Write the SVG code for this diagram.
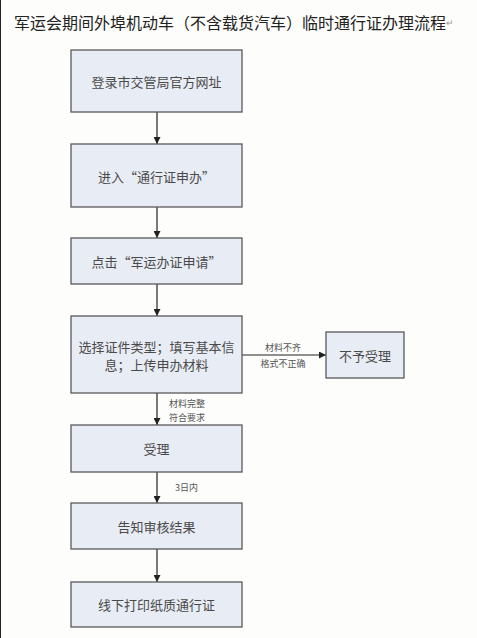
<svg xmlns="http://www.w3.org/2000/svg" width="477" height="638" viewBox="0 0 477 638">
<defs>
<style>
.bx{fill:#e8ecf4;stroke:#5a5a5a;stroke-width:1.3}
.t{font-family:"Noto Sans CJK SC","Liberation Sans",sans-serif;font-size:13px;fill:#4a4a4a;text-anchor:middle;dominant-baseline:central}
.s{font-family:"Noto Sans CJK SC","Liberation Sans",sans-serif;font-size:9px;fill:#555;dominant-baseline:central}
.c{stroke:#222;stroke-width:1.2;fill:none;marker-end:url(#ah)}
</style>
<marker id="ah" viewBox="0 0 10 10" refX="10" refY="5" markerWidth="7" markerHeight="7" markerUnits="userSpaceOnUse" orient="auto">
<path d="M0,0 L10,5 L0,10 z" fill="#222"/>
</marker>
</defs>
<rect x="0" y="0" width="477" height="638" fill="#fdfdfb"/>
<line x1="0.5" y1="0" x2="0.5" y2="638" stroke="#222" stroke-width="1"/>
<text x="14" y="22" font-family="'Noto Sans CJK SC','Liberation Sans',sans-serif" font-size="16" fill="#222" dominant-baseline="central">军运会期间外埠机动车（不含载货汽车）临时通行证办理流程<tspan font-size="9" fill="#999">↵</tspan></text>
<g id="connectors">
<line class="c" x1="157" y1="112" x2="157" y2="144"/>
<line class="c" x1="157" y1="207" x2="157" y2="238"/>
<line class="c" x1="157" y1="284" x2="157" y2="316"/>
<line class="c" x1="242" y1="355" x2="326" y2="355"/>
<line class="c" x1="157" y1="393" x2="157" y2="425"/>
<line class="c" x1="157" y1="472" x2="157" y2="503"/>
<line class="c" x1="157" y1="549" x2="157" y2="582"/>
<text class="s" x="283" y="347" text-anchor="middle">材料不齐</text>
<text class="s" x="283" y="363" text-anchor="middle">格式不正确</text>
<text class="s" x="169" y="403">材料完整</text>
<text class="s" x="169" y="417">符合要求</text>
<text class="s" x="175" y="487">3日内</text>
</g>
<g id="n1"><rect class="bx" x="71" y="50" width="171" height="62"/><text class="t" x="156.5" y="81">登录市交管局官方网址</text></g>
<g id="n2"><rect class="bx" x="71" y="144" width="171" height="63"/><text class="t" x="156.5" y="176">进入“通行证申办”</text></g>
<g id="n3"><rect class="bx" x="71" y="238" width="171" height="46"/><text class="t" x="156.5" y="261">点击“军运办证申请”</text></g>
<g id="n4"><rect class="bx" x="71" y="316" width="171" height="77"/><text class="t" x="156.5" y="346">选择证件类型；填写基本信</text><text class="t" x="156.5" y="364">息；上传申办材料</text></g>
<g id="n5"><rect class="bx" x="326" y="332" width="78" height="46"/><text class="t" x="365" y="355">不予受理</text></g>
<g id="n6"><rect class="bx" x="71" y="425" width="171" height="47"/><text class="t" x="156.5" y="448">受理</text></g>
<g id="n7"><rect class="bx" x="71" y="503" width="171" height="46"/><text class="t" x="156.5" y="526">告知审核结果</text></g>
<g id="n8"><rect class="bx" x="71" y="582" width="171" height="45"/><text class="t" x="156.5" y="604">线下打印纸质通行证</text></g>
</svg>
